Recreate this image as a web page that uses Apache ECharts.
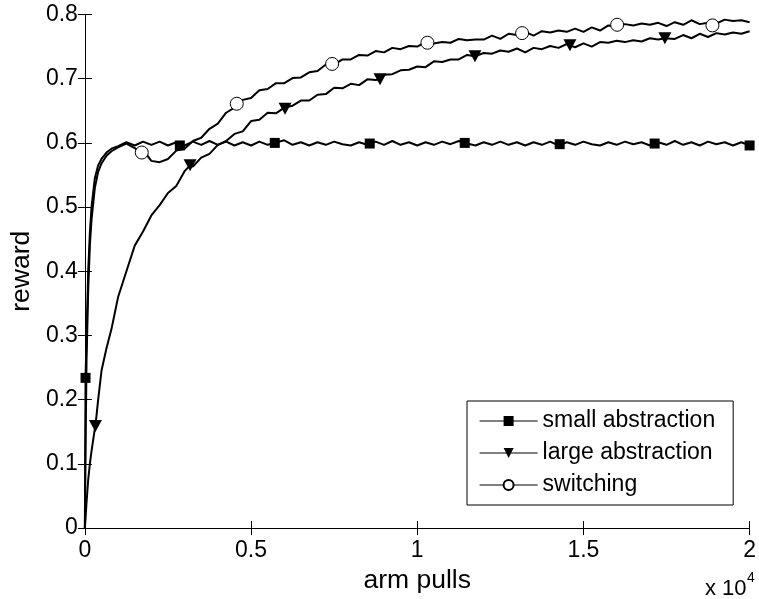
<!DOCTYPE html>
<html>
<head>
<meta charset="utf-8">
<script src="https://cdn.jsdelivr.net/npm/echarts@6/dist/echarts.min.js"></script>
<style>
  html, body { margin: 0; padding: 0; background: #fff; }
  #chart { width: 759px; height: 599px; }
</style>
</head>
<body>
<div id="chart"></div>
<script>
var pulls = [0, 20, 50, 100, 150, 200, 300, 400, 500, 650, 800,
    1000, 1250, 1500, 1750, 2000, 2250, 2500, 2750, 3000, 3250, 3500, 3750,
    4000, 4250, 4500, 4750, 5000, 5250, 5500, 5750, 6000, 6250, 6500, 6750,
    7000, 7250, 7500, 7750, 8000, 8250, 8500, 8750, 9000, 9250, 9500, 9750,
    10000, 10250, 10500, 10750, 11000, 11250, 11500, 11750, 12000, 12250, 12500, 12750,
    13000, 13250, 13500, 13750, 14000, 14250, 14500, 14750, 15000, 15250, 15500, 15750,
    16000, 16250, 16500, 16750, 17000, 17250, 17500, 17750, 18000, 18250, 18500, 18750,
    19000, 19250, 19500, 19750, 20000];

var smallReward = [0, 0.234, 0.30, 0.40, 0.46, 0.50, 0.545, 0.565, 0.575, 0.585, 0.591,
    0.595, 0.601, 0.596, 0.602, 0.597, 0.602, 0.596, 0.601, 0.596, 0.602, 0.597, 0.603,
    0.597, 0.602, 0.596, 0.601, 0.596, 0.602, 0.597, 0.601, 0.604, 0.597, 0.601, 0.596,
    0.601, 0.597, 0.602, 0.598, 0.596, 0.601, 0.597, 0.602, 0.597, 0.603, 0.597, 0.601,
    0.596, 0.601, 0.597, 0.602, 0.598, 0.603, 0.599, 0.596, 0.601, 0.597, 0.602, 0.597,
    0.601, 0.596, 0.601, 0.597, 0.602, 0.596, 0.601, 0.597, 0.602, 0.598, 0.596, 0.601,
    0.597, 0.602, 0.598, 0.601, 0.596, 0.601, 0.597, 0.603, 0.597, 0.601, 0.596, 0.602,
    0.598, 0.601, 0.596, 0.601, 0.597];

var largeReward = [0, 0.015, 0.04, 0.075, 0.10, 0.12, 0.155, 0.20, 0.245, 0.28, 0.31,
    0.36, 0.40, 0.44, 0.462, 0.487, 0.503, 0.522, 0.533, 0.556, 0.563, 0.577, 0.583,
    0.597, 0.603, 0.614, 0.618, 0.634, 0.636, 0.647, 0.646, 0.655, 0.658, 0.666, 0.666,
    0.675, 0.676, 0.686, 0.685, 0.692, 0.690, 0.699, 0.698, 0.706, 0.707, 0.713, 0.714,
    0.719, 0.718, 0.727, 0.726, 0.730, 0.730, 0.737, 0.734, 0.740, 0.739, 0.744, 0.742,
    0.747, 0.741, 0.748, 0.746, 0.751, 0.748, 0.754, 0.749, 0.755, 0.750, 0.757, 0.756,
    0.759, 0.757, 0.760, 0.758, 0.763, 0.761, 0.764, 0.762, 0.768, 0.763, 0.770, 0.765,
    0.771, 0.769, 0.772, 0.770, 0.774];

var switchReward = [0, 0.12, 0.26, 0.37, 0.44, 0.48, 0.53, 0.555, 0.568, 0.580, 0.587,
    0.593, 0.599, 0.592, 0.589, 0.572, 0.570, 0.575, 0.588, 0.591, 0.603, 0.608, 0.622,
    0.630, 0.647, 0.655, 0.667, 0.670, 0.682, 0.684, 0.693, 0.693, 0.701, 0.702, 0.710,
    0.712, 0.722, 0.722, 0.730, 0.730, 0.737, 0.736, 0.743, 0.741, 0.748, 0.746, 0.751,
    0.750, 0.757, 0.755, 0.757, 0.756, 0.762, 0.760, 0.761, 0.761, 0.767, 0.762, 0.770,
    0.768, 0.773, 0.767, 0.774, 0.772, 0.775, 0.773, 0.778, 0.773, 0.780, 0.775, 0.783,
    0.782, 0.785, 0.783, 0.786, 0.784, 0.787, 0.782, 0.788, 0.784, 0.791, 0.785, 0.787,
    0.786, 0.792, 0.790, 0.791, 0.788];

// marker positions as they sit on each curve
var smallMarkX = [20, 2857, 5714, 8571, 11429, 14286, 17143, 20000];
var smallMarkY = [0.234, 0.596, 0.600, 0.599, 0.600, 0.598, 0.599, 0.596];
var largeMarkX = [317, 3166, 6023, 8880, 11737, 14594, 17451];
var largeMarkY = [0.159, 0.565, 0.653, 0.699, 0.735, 0.752, 0.763];
var switchMarkX = [1712, 4570, 7439, 10306, 13155, 16015, 18882];
var switchMarkY = [0.585, 0.661, 0.723, 0.756, 0.771, 0.784, 0.783];

var seriesNames = ['small abstraction', 'large abstraction', 'switching'];
var xTicks = [0, 5000, 10000, 15000, 20000];

var font = "'Liberation Sans', Arial, Helvetica, sans-serif";

// merge curve samples and marker points; only marker points show a symbol
function buildData(ys, mx, my) {
    var pts = [];
    for (var i = 0; i < pulls.length; i++) {
        if (mx.indexOf(pulls[i]) >= 0) continue;
        pts.push({ value: [pulls[i], ys[i]], symbol: 'none' });
    }
    for (var j = 0; j < mx.length; j++) {
        pts.push({ value: [mx[j], my[j]] });
    }
    pts.sort(function (a, b) { return a.value[0] - b.value[0]; });
    return pts;
}

var chart = echarts.init(document.getElementById('chart'), null, { renderer: 'canvas' });

var axisLine = { show: true, lineStyle: { color: '#000', width: 1 } };
var tick = { show: true, inside: true, length: 7, lineStyle: { color: '#000', width: 1 } };

chart.setOption({
    animation: false,
    backgroundColor: '#fff',
    grid: { left: 82, right: 3, top: 14.5, bottom: 69, containLabel: false },
    xAxis: [{
        type: 'value', min: 0, max: 20000, interval: 5000, position: 'bottom',
        name: 'arm pulls', nameLocation: 'middle', nameGap: 32,
        nameTextStyle: { fontFamily: font, fontSize: 26.5, color: '#000' },
        axisLine: axisLine, axisTick: tick, splitLine: { show: false },
        axisLabel: {
            fontFamily: font, fontSize: 23, color: '#000', margin: 11,
            formatter: function (v) { return xTicks.indexOf(v) >= 0 ? String(v / 10000) : ''; }
        }
    }, {
        type: 'value', min: 0, max: 20000, interval: 5000, position: 'top',
        axisLine: axisLine, axisTick: tick, axisLabel: { show: false }, splitLine: { show: false }
    }],
    yAxis: [{
        type: 'value', min: 0, max: 0.8, interval: 0.1, position: 'left',
        name: 'reward', nameLocation: 'middle', nameGap: 41, nameRotate: 90,
        nameTextStyle: { fontFamily: font, fontSize: 26.5, color: '#000' },
        axisLine: axisLine, axisTick: tick, splitLine: { show: false },
        axisLabel: { fontFamily: font, fontSize: 23, color: '#000', margin: 7 }
    }, {
        type: 'value', min: 0, max: 0.8, interval: 0.1, position: 'right',
        axisLine: axisLine, axisTick: tick, axisLabel: { show: false }, splitLine: { show: false }
    }],
    legend: {
        orient: 'vertical', left: 467, top: 401,
        padding: [8, 18, 8, 12],
        itemWidth: 58, itemHeight: 12.5, itemGap: 8,
        backgroundColor: '#fff', borderColor: '#000', borderWidth: 1, borderRadius: 0,
        textStyle: { fontFamily: font, fontSize: 23, color: '#000', lineHeight: 24 },
        lineStyle: { width: 1.2 },
        data: seriesNames
    },
    series: [{
        name: seriesNames[0], type: 'line', xAxisIndex: 0, yAxisIndex: 0,
        data: buildData(smallReward, smallMarkX, smallMarkY),
        symbol: 'rect', symbolSize: 10, showSymbol: true,
        lineStyle: { color: '#000', width: 2 },
        itemStyle: { color: '#000', borderColor: '#000', borderWidth: 0 },
        emphasis: { disabled: true }, silent: true, z: 2
    }, {
        name: seriesNames[1], type: 'line', xAxisIndex: 0, yAxisIndex: 0,
        data: buildData(largeReward, largeMarkX, largeMarkY),
        symbol: 'triangle', symbolSize: [13, 12], symbolRotate: 180, showSymbol: true,
        lineStyle: { color: '#000', width: 2 },
        itemStyle: { color: '#000', borderColor: '#000', borderWidth: 0 },
        emphasis: { disabled: true }, silent: true, z: 2
    }, {
        name: seriesNames[2], type: 'line', xAxisIndex: 0, yAxisIndex: 0,
        data: buildData(switchReward, switchMarkX, switchMarkY),
        symbol: 'circle', symbolSize: 13, showSymbol: true,
        lineStyle: { color: '#000', width: 2 },
        itemStyle: { color: '#fff', borderColor: '#000', borderWidth: 1 },
        emphasis: { disabled: true }, silent: true, z: 3
    }],
    graphic: [{
        type: 'text', left: 705, top: 578,
        style: { text: 'x 10', fontFamily: font, fontSize: 22, fill: '#000' }
    }, {
        type: 'text', left: 747, top: 571,
        style: { text: '4', fontFamily: font, fontSize: 14, fill: '#000' }
    }]
});
</script>
</body>
</html>
